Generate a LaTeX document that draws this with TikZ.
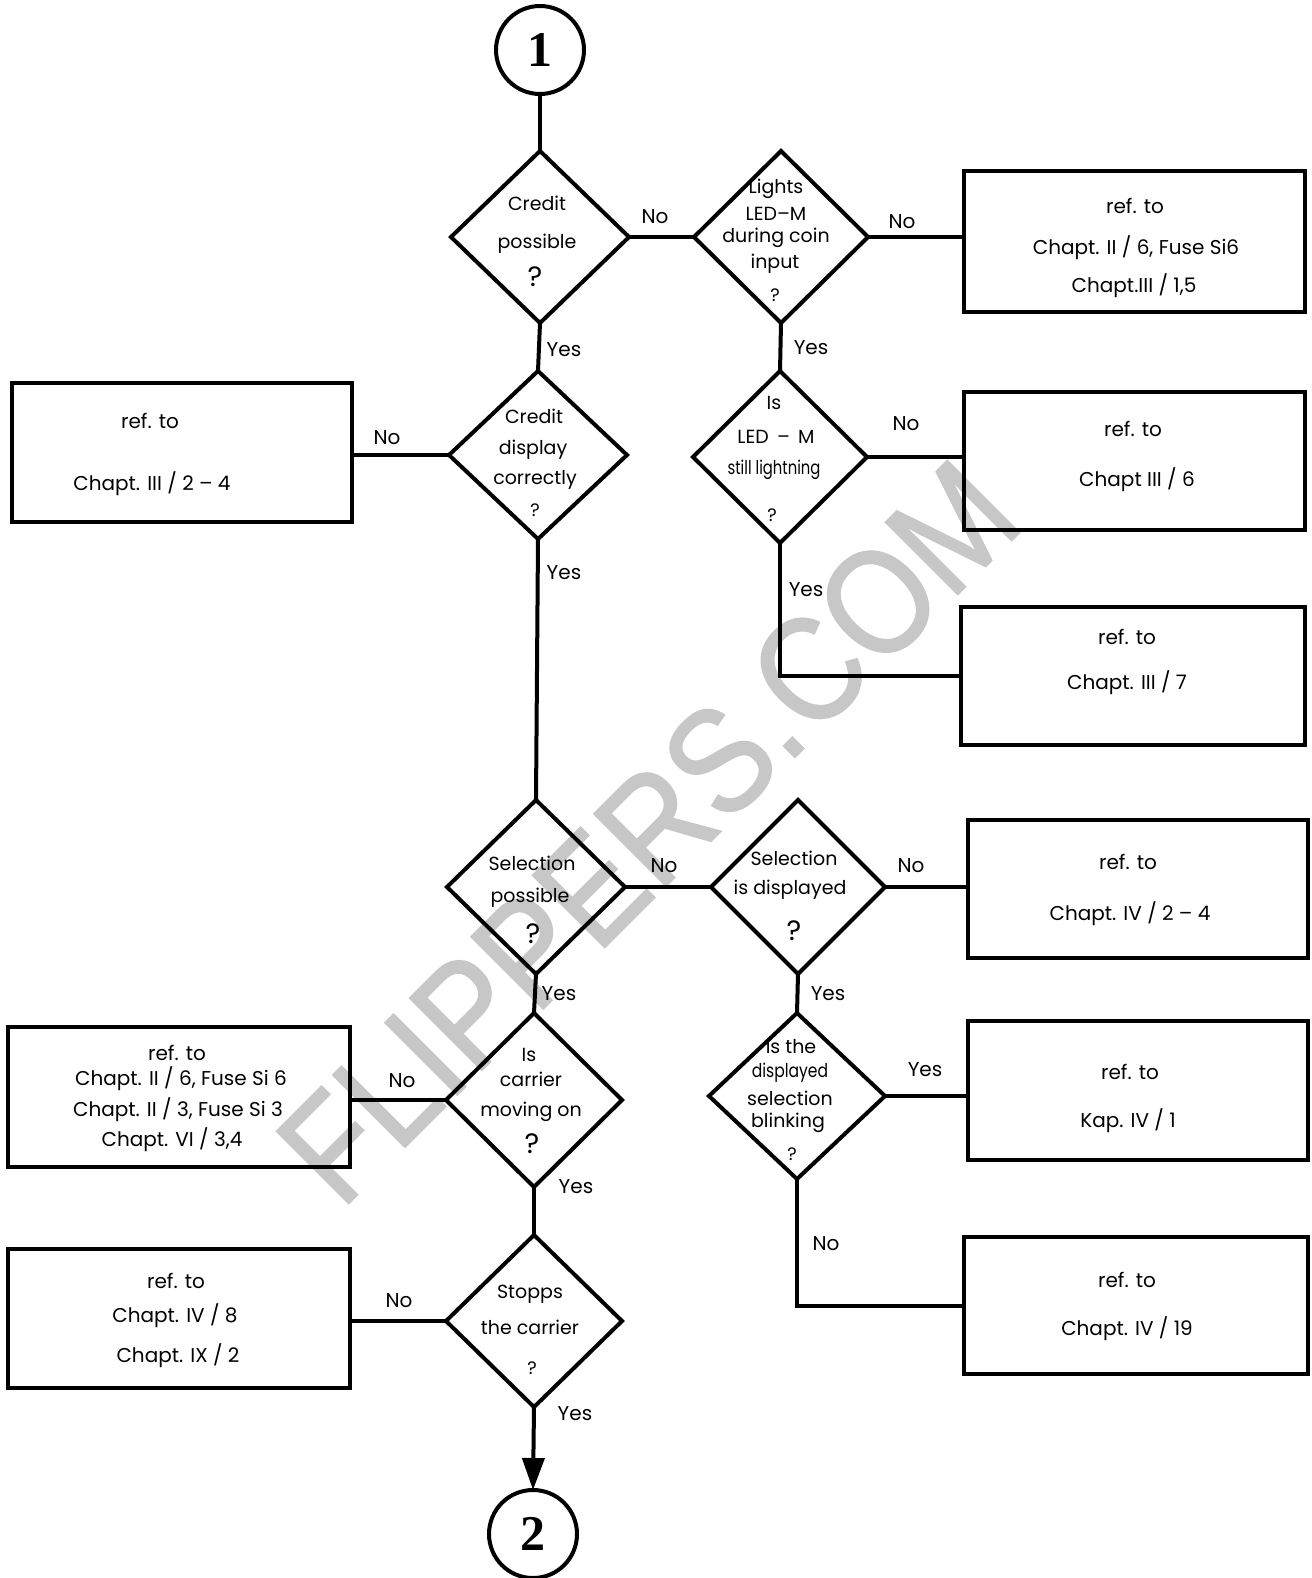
\documentclass[tikz,border=0pt]{standalone}
\usepackage{fontspec}
\setmainfont{Poppins}
\newfontfamily\numfont{Liberation Serif}
\newfontfamily\wmfont{Liberation Sans}[FakeBold=1.3]
\usetikzlibrary{shapes.geometric,arrows.meta}
\begin{document}
\begin{tikzpicture}[x=0.5pt,y=-0.5pt,
  every node/.style={inner sep=0pt, outer sep=0pt},
  ln/.style={line width=2pt},
  dia/.style={diamond, draw, line width=2pt, inner sep=0pt},
  box/.style={rectangle, draw, line width=2.2pt},
  circ/.style={circle, draw, line width=2pt, minimum size=44pt, font=\numfont\bfseries\fontsize{25}{25}\selectfont},
  txt/.style={font=\fontsize{9.5}{10}\selectfont},
  btxt/.style={font=\fontsize{10}{11}\selectfont},
  lbl/.style={font=\fontsize{10}{11}\selectfont},
  q/.style={font=\fontsize{14}{14}\selectfont},
  qs/.style={font=\fontsize{9}{9}\selectfont},
  wm/.style={font=\wmfont\fontsize{74}{74}\selectfont, text=black!22},
]
\useasboundingbox (0,0) rectangle (1311,1578);
% watermark
\node[wm, rotate=45] (wmark) at (648,832) {\scalebox{0.88}[1]{FLIPPERS.COM}};
% circles
\node[circ] (c1) at (540,50) {1};
\node[circ] (c2) at (533,1534) {2};
% diamonds
\node[dia, minimum width=89pt, minimum height=86pt] (d1) at (540,237) {};
\node[dia, minimum width=87pt, minimum height=86pt] (d2) at (781,237) {};
\node[dia, minimum width=89pt, minimum height=84pt] (d3) at (538,455) {};
\node[dia, minimum width=87pt, minimum height=86pt] (d4) at (780,457) {};
\node[dia, minimum width=89pt, minimum height=87pt] (d5) at (536,887) {};
\node[dia, minimum width=87pt, minimum height=87pt] (d6) at (798,887) {};
\node[dia, minimum width=88pt, minimum height=87pt] (d7) at (534,1100) {};
\node[dia, minimum width=88pt, minimum height=86pt] (d8) at (534,1321) {};
\node[dia, minimum width=88pt, minimum height=83pt] (d9) at (797,1096) {};
% boxes
\node[box, minimum width=170.5pt, minimum height=70.5pt] (b1) at (1134.5,241.5) {};
\node[box, minimum width=170pt, minimum height=69.5pt] (b2) at (182,452.5) {};
\node[box, minimum width=170.5pt, minimum height=69pt] (b3) at (1134.5,461) {};
\node[box, minimum width=172pt, minimum height=69pt] (b4) at (1133,676) {};
\node[box, minimum width=170pt, minimum height=69pt] (b5) at (1138,889) {};
\node[box, minimum width=171pt, minimum height=70pt] (b6) at (179,1097) {};
\node[box, minimum width=171pt, minimum height=69.5pt] (b7) at (179,1318.5) {};
\node[box, minimum width=170pt, minimum height=69.5pt] (b8) at (1138,1090.5) {};
\node[box, minimum width=172pt, minimum height=68.5pt] (b9) at (1136,1305.5) {};
% diamond texts
\node[txt] (t1a) at (537,203) {Credit};
\node[txt] (t1b) at (537,244) {possible};
\node[q] (t1c) at (535,277) {?};
\node[txt] (t2a) at (776,189) {Lights};
\node[txt] (t2b) at (776,214) {LED--M};
\node[txt] (t2c) at (776,238) {during coin};
\node[txt] (t2d) at (775,264) {input};
\node[qs] (t2e) at (775,295) {?};
\node[txt] (t3a) at (534,416) {Credit};
\node[txt] (t3b) at (533,450) {display};
\node[txt] (t3c) at (535,480) {correctly};
\node[qs] (t3d) at (535,510) {?};
\node[txt] (t4a) at (774,403) {Is};
\node[txt] (t4b) at (776,437) {LED \,--\, M};
\node[txt] (t4c) at (774,470) {\scalebox{0.78}[1]{still lightning}};
\node[qs] (t4d) at (772,515) {?};
\node[txt] (t5a) at (532,863) {Selection};
\node[txt] (t5b) at (530,898) {possible};
\node[q] (t5c) at (533,934) {?};
\node[txt] (t6a) at (794,858) {Selection};
\node[txt] (t6b) at (790,890) {is displayed};
\node[q] (t6c) at (794,931) {?};
\node[txt] (t7a) at (529,1055) {Is};
\node[txt] (t7b) at (531,1079) {carrier};
\node[txt] (t7c) at (531,1112) {moving on};
\node[q] (t7d) at (532,1144) {?};
\node[txt] (t8a) at (530,1294) {Stopps};
\node[txt] (t8b) at (530,1327) {the carrier};
\node[qs] (t8c) at (532,1368) {?};
\node[txt] (t9a) at (791,1047) {Is the};
\node[txt] (t9b) at (790,1073) {\scalebox{0.82}[1]{displayed}};
\node[txt] (t9c) at (790,1098) {selection};
\node[txt] (t9d) at (788,1123) {blinking};
\node[qs] (t9e) at (792,1154) {?};
% box texts
\node[btxt] (s1a) at (1135,206) {ref. to};
\node[btxt] (s1b) at (1136,248) {Chapt. II / 6, Fuse Si6};
\node[btxt] (s1c) at (1134,286) {Chapt.III / 1,5};
\node[btxt] (s2a) at (150,421) {ref. to};
\node[btxt] (s2b) at (152,484) {Chapt. III / 2 -- 4};
\node[btxt] (s3a) at (1133,429) {ref. to};
\node[btxt] (s3b) at (1137,480) {Chapt III / 6};
\node[btxt] (s4a) at (1127,637) {ref. to};
\node[btxt] (s4b) at (1127,683) {Chapt. III / 7};
\node[btxt] (s5a) at (1128,862) {ref. to};
\node[btxt] (s5b) at (1130,914) {Chapt. IV / 2 -- 4};
\node[btxt] (s6a) at (177,1053) {ref. to};
\node[btxt] (s6b) at (181,1079) {Chapt. II / 6, Fuse Si 6};
\node[btxt] (s6c) at (178,1110) {Chapt. II / 3, Fuse Si 3};
\node[btxt] (s6d) at (172,1140) {Chapt. VI / 3,4};
\node[btxt] (s7a) at (176,1281) {ref. to};
\node[btxt] (s7b) at (175,1316) {Chapt. IV / 8};
\node[btxt] (s7c) at (178,1356) {Chapt. IX / 2};
\node[btxt] (s8a) at (1130,1072) {ref. to};
\node[btxt] (s8b) at (1128,1121) {Kap. IV / 1};
\node[btxt] (s9a) at (1127,1280) {ref. to};
\node[btxt] (s9b) at (1127,1329) {Chapt. IV / 19};
% labels
\node[lbl] (l1) at (655,217) {No};
\node[lbl] (l2) at (902,222) {No};
\node[lbl] (l3) at (564,350) {Yes};
\node[lbl] (l4) at (811,348) {Yes};
\node[lbl] (l5) at (387,438) {No};
\node[lbl] (l6) at (564,573) {Yes};
\node[lbl] (l7) at (906,424) {No};
\node[lbl] (l8) at (806,590) {Yes};
\node[lbl] (l9) at (664,866) {No};
\node[lbl] (l10) at (911,866) {No};
\node[lbl] (l11) at (559,994) {Yes};
\node[lbl] (l12) at (402,1081) {No};
\node[lbl] (l13) at (576,1187) {Yes};
\node[lbl] (l14) at (399,1301) {No};
\node[lbl] (l15) at (575,1414) {Yes};
\node[lbl] (l16) at (828,994) {Yes};
\node[lbl] (l17) at (925,1070) {Yes};
\node[lbl] (l18) at (826,1244) {No};
% connectors
\draw[ln] (c1.south) -- (d1.north);
\draw[ln] (d1.east) -- (d2.west);
\draw[ln] (d2.east) -- (b1.west |- d2.east);
\draw[ln] (d1.south) -- (d3.north);
\draw[ln] (d2.south) -- (d4.north);
\draw[ln] (d3.west) -- (b2.east |- d3.west);
\draw[ln] (d4.east) -- (b3.west |- d4.east);
\draw[ln] (d4.south) |- (b4.west);
\draw[ln] (d3.south) -- (d5.north);
\draw[ln] (d5.east) -- (d6.west);
\draw[ln] (d6.east) -- (b5.west |- d6.east);
\draw[ln] (d5.south) -- (d7.north);
\draw[ln] (d7.west) -- (b6.east |- d7.west);
\draw[ln] (d7.south) -- (d8.north);
\draw[ln] (d8.west) -- (b7.east |- d8.west);
\draw[ln, -{Stealth[length=16pt, width=11pt, inset=0pt]}] (d8.south) -- (c2.north);
\draw[ln] (d6.south) -- (d9.north);
\draw[ln] (d9.east) -- (b8.west |- d9.east);
\draw[ln] (d9.south) |- (b9.west);
\end{tikzpicture}
\end{document}
